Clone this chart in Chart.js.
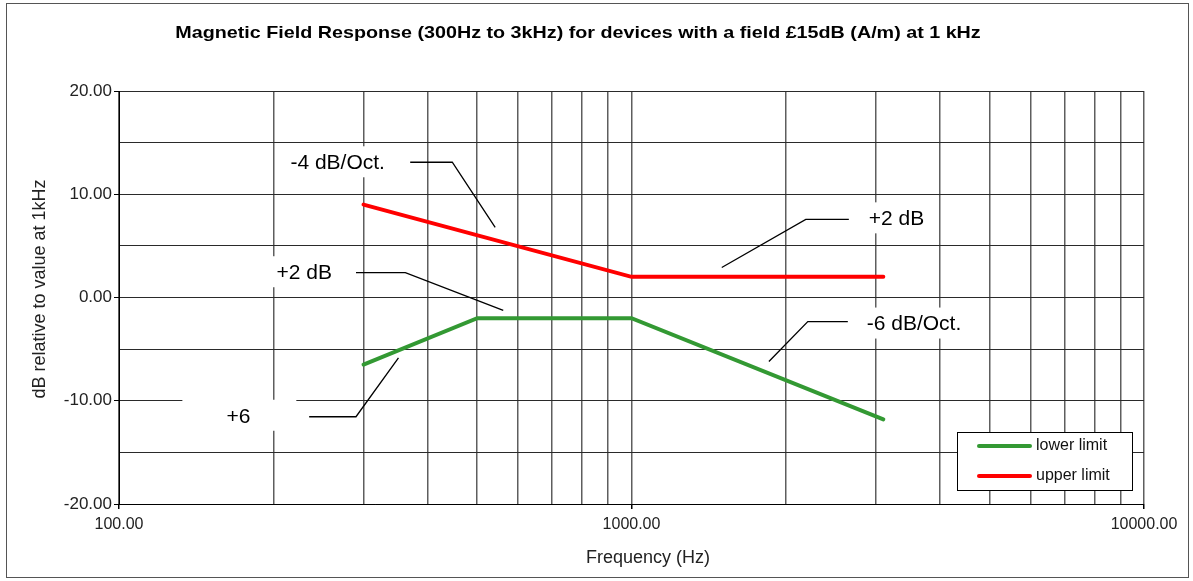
<!DOCTYPE html>
<html>
<head>
<meta charset="utf-8">
<script src="https://cdn.jsdelivr.net/npm/chart.js@4.4.1/dist/chart.umd.min.js"></script>
<style>
  html, body { margin: 0; padding: 0; background: #fff; }
</style>
</head>
<body>
<canvas id="fieldChart" width="1193" height="581"></canvas>
<script>
// Limit lines, frequency in Hz, level in dB relative to 1 kHz
const lowerFreq = [300, 500, 1000, 3100];
const lowerLimit = [-6.5, -2, -2, -11.8];
const upperFreq = [300, 1000, 3100];
const upperLimit = [9, 2, 2];

// log grid on the frequency axis, only the decades get a label
const xGridFreqs = [100, 200, 300, 400, 500, 600, 700, 800, 900,
                    1000, 2000, 3000, 4000, 5000, 6000, 7000, 8000, 9000, 10000];
const xLabelled = [100, 1000, 10000];
const yLabelled = [-20, -10, 0, 10, 20];

// slope notes, anchored in data units (Hz, dB)
const notes = [
    { text: '-4 dB/Oct.', at: [216, 13.0], leader: [[370, 13.1], [447, 13.1], [542, 6.8]], pad: [10, 14] },
    { text: '+2 dB', at: [203, 2.35], leader: [[290, 2.4], [362, 2.4], [562, -1.25]], pad: [11, 12] },
    { text: '+2 dB', at: [2904, 7.57], leader: [[2655, 7.57], [2188, 7.57], [1500, 2.9]], pad: [6, 6] },
    { text: '-6 dB/Oct.', at: [2877, -2.62], leader: [[2643, -2.33], [2208, -2.33], [1854, -6.2]], pad: [6, 6] },
    { text: '+6', at: [162, -11.55], leader: [[235, -11.55], [290, -11.55], [351, -5.85]], pad: [44, 46] }
];

const FONT = '"Liberation Sans", Arial, sans-serif';

const notesPlugin = {
    id: 'slopeNotes',
    beforeDatasetsDraw(chart) {
        const { ctx, scales: { x, y } } = chart;
        ctx.save();
        ctx.font = '21px ' + FONT;
        // white boxes first so they hide the grid
        notes.forEach(n => {
            const tx = x.getPixelForValue(n.at[0]);
            const ty = y.getPixelForValue(n.at[1]);
            const w = ctx.measureText(n.text).width;
            ctx.fillStyle = '#fff';
            ctx.fillRect(tx - n.pad[0], ty - 17, w + n.pad[0] + n.pad[1], 31);
        });
        ctx.strokeStyle = '#000';
        ctx.lineWidth = 1.3;
        notes.forEach(n => {
            ctx.beginPath();
            n.leader.forEach((p, i) => {
                const px = x.getPixelForValue(p[0]);
                const py = y.getPixelForValue(p[1]);
                if (i === 0) ctx.moveTo(px, py); else ctx.lineTo(px, py);
            });
            ctx.stroke();
        });
        ctx.fillStyle = '#000';
        ctx.textBaseline = 'middle';
        ctx.textAlign = 'left';
        notes.forEach(n => {
            ctx.fillText(n.text, x.getPixelForValue(n.at[0]), y.getPixelForValue(n.at[1]));
        });
        ctx.restore();
    }
};

const framePlugin = {
    id: 'frame',
    afterDraw(chart) {
        const { ctx, chartArea: area } = chart;
        ctx.save();
        // title (the original is drawn a bit wide)
        ctx.fillStyle = '#000';
        ctx.font = 'bold 17px ' + FONT;
        ctx.textAlign = 'center';
        ctx.textBaseline = 'middle';
        ctx.translate(578, 33);
        ctx.scale(1.16, 1);
        ctx.fillText('Magnetic Field Response (300Hz to 3kHz) for devices with a field £15dB (A/m) at 1 kHz', 0, 0);
        ctx.setTransform(1, 0, 0, 1, 0, 0);

        // axis titles
        ctx.fillStyle = '#222';
        ctx.font = '18px ' + FONT;
        ctx.fillText('Frequency (Hz)', 648, 558);
        ctx.translate(40, 289);
        ctx.rotate(-Math.PI / 2);
        ctx.fillText('dB relative to value at 1kHz', 0, 0);
        ctx.setTransform(1, 0, 0, 1, 0, 0);

        // legend box in the lower right corner of the plot
        const bw = 175, bh = 58;
        const bx = area.right - 12 - bw;
        const by = area.bottom - 14 - bh;
        ctx.fillStyle = '#fff';
        ctx.fillRect(bx, by, bw, bh);
        ctx.strokeStyle = '#000';
        ctx.lineWidth = 1;
        ctx.strokeRect(bx + 0.5, by + 0.5, bw, bh);
        ctx.font = '16px ' + FONT;
        ctx.textAlign = 'left';
        chart.data.datasets.forEach((ds, i) => {
            const ly = by + 14 + i * 30;
            ctx.strokeStyle = ds.borderColor;
            ctx.lineWidth = 4;
            ctx.lineCap = 'round';
            ctx.beginPath();
            ctx.moveTo(bx + 22, ly);
            ctx.lineTo(bx + 73, ly);
            ctx.stroke();
            ctx.fillStyle = '#111';
            ctx.fillText(ds.label, bx + 79, ly);
        });

        // outer border of the picture
        ctx.strokeStyle = '#555';
        ctx.lineWidth = 1;
        ctx.strokeRect(6.5, 3.5, 1182, 574);
        ctx.restore();
    }
};

new Chart(document.getElementById('fieldChart'), {
    type: 'line',
    data: {
        datasets: [{
            label: 'lower limit',
            data: lowerFreq.map((f, i) => ({ x: f, y: lowerLimit[i] })),
            borderColor: '#339933',
            borderWidth: 4,
            borderCapStyle: 'round',
            pointRadius: 0,
            tension: 0
        }, {
            label: 'upper limit',
            data: upperFreq.map((f, i) => ({ x: f, y: upperLimit[i] })),
            borderColor: '#ff0000',
            borderWidth: 4,
            borderCapStyle: 'round',
            pointRadius: 0,
            tension: 0
        }]
    },
    options: {
        responsive: false,
        animation: false,
        layout: { padding: { top: 91, right: 49, left: 0, bottom: 0 } },
        scales: {
            x: {
                type: 'logarithmic',
                min: 100,
                max: 10000,
                afterBuildTicks: scale => {
                    scale.ticks = xGridFreqs.map(v => ({ value: v, major: xLabelled.includes(v) }));
                },
                afterFit: scale => { scale.height = 77; },
                ticks: {
                    autoSkip: false,
                    maxRotation: 0,
                    padding: 6,
                    color: '#222',
                    font: { family: FONT, size: 16 },
                    callback: value => xLabelled.includes(value) ? value.toFixed(2) : ''
                },
                grid: {
                    color: '#5e5e5e',
                    lineWidth: 1.5,
                    tickLength: 5,
                    tickColor: c => (c.tick && xLabelled.includes(c.tick.value)) ? '#000' : 'rgba(0,0,0,0)'
                },
                border: { color: '#000', width: 1 }
            },
            y: {
                min: -20,
                max: 20,
                afterFit: scale => { scale.width = 119; },
                ticks: {
                    stepSize: 5,
                    padding: 2,
                    color: '#222',
                    font: { family: FONT, size: 17 },
                    callback: value => yLabelled.includes(value) ? value.toFixed(2) : ''
                },
                grid: {
                    color: '#2a2a2a',
                    tickLength: 5,
                    tickColor: c => (c.tick && yLabelled.includes(c.tick.value)) ? '#000' : 'rgba(0,0,0,0)'
                },
                border: { color: '#000', width: 1 }
            }
        },
        plugins: {
            legend: { display: false },
            title: { display: false },
            tooltip: { enabled: false }
        }
    },
    plugins: [notesPlugin, framePlugin]
});
</script>
</body>
</html>
